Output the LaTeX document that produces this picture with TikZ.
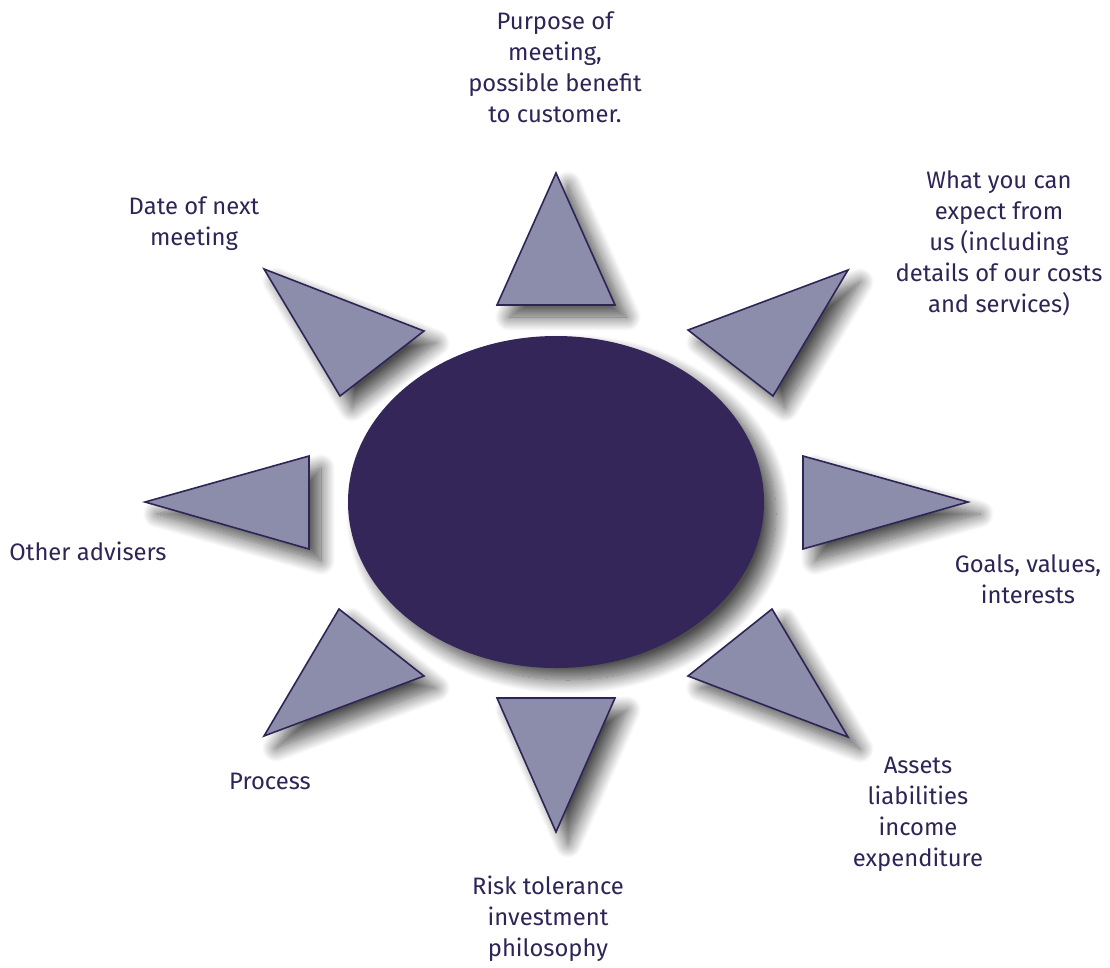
\documentclass[tikz,border=0pt]{standalone}
\usepackage{fontspec}
\setmainfont{Fira Sans}
\usepackage{tikz}
\usetikzlibrary{shadows.blur}
\definecolor{hubcol}{HTML}{352659}
\definecolor{raycol}{HTML}{8C8CAB}
\definecolor{inkcol}{HTML}{2E2456}

\begin{document}
\begin{tikzpicture}[x=1pt,y=-1pt,
  shade/.style={blur shadow={shadow xshift=12pt,shadow yshift=-12pt,shadow blur radius=14pt,shadow blur steps=16,shadow opacity=70}},
  ray/.style={fill=raycol,draw=inkcol,line width=1.6pt,line join=miter,shade},
  lbl/.style={text=inkcol,align=center,font=\fontsize{23.8}{31}\selectfont,inner sep=0pt}]
\useasboundingbox (0,0) rectangle (1110,967);

% centre
\fill[hubcol,shade] (556,502) ellipse [x radius=208,y radius=166];

% rays
\draw[ray] (556,173) -- (615,305) -- (497,305) -- cycle;
\draw[ray] (848,270) -- (688,330) -- (773,396) -- cycle;
\draw[ray] (968,502) -- (803,456) -- (803,549) -- cycle;
\draw[ray] (848,737) -- (772,609) -- (688,676) -- cycle;
\draw[ray] (556,832) -- (497,698) -- (615,698) -- cycle;
\draw[ray] (264,736) -- (339,609) -- (424,676) -- cycle;
\draw[ray] (145,502) -- (309,456) -- (309,549) -- cycle;
\draw[ray] (264,269) -- (424,331) -- (340,396) -- cycle;

% labels
\node[lbl] (purpose) at (555,67) {Purpose of\\meeting,\\possible benefit\\to customer.};
\node[lbl] (expect) at (999,243) {What you can\\expect from\\us (including\\details of our costs\\and services)};
\node[lbl] (goals) at (1028,579) {Goals, values,\\interests};
\node[lbl] (assets) at (918,814) {Assets\\liabilities\\income\\expenditure};
\node[lbl] (risk) at (548,919) {Risk tolerance\\investment\\philosophy};
\node[lbl] (process) at (270,781) {Process};
\node[lbl] (others) at (88,551) {Other advisers};
\node[lbl] (nextdate) at (194,224) {Date of next\\meeting};
\end{tikzpicture}
\end{document}
